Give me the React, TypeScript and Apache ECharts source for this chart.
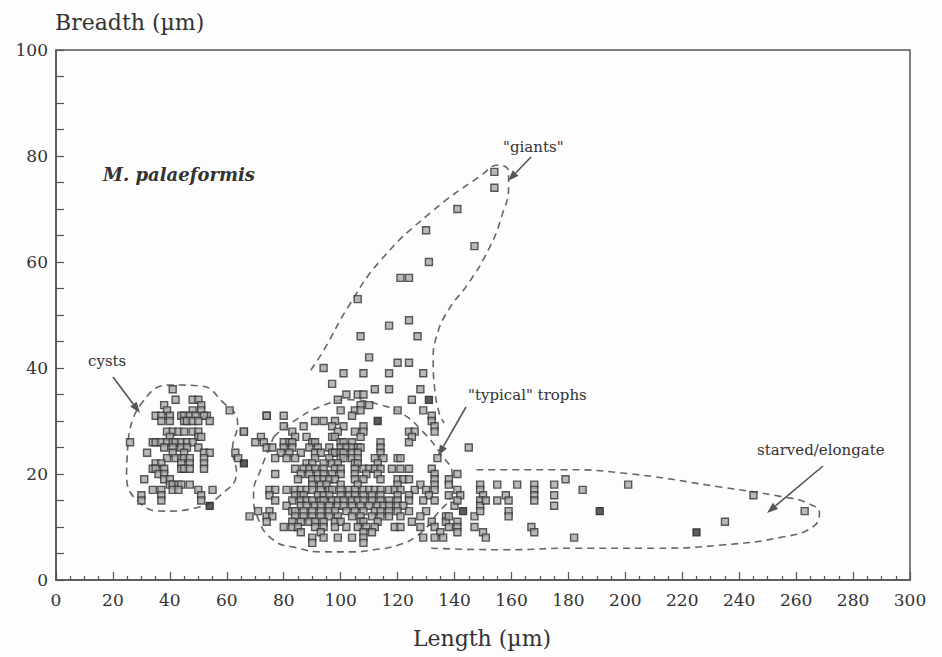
import React, { useEffect, useRef } from "react";
import * as echarts from "echarts";

// ---- Data (Length µm, Breadth µm) ----
const cystPoints: number[][] = [
  [41,36],[42,34],[38,33],[48,34],[50,34],[51,33],[39,32],[48,32],[51,32],[53,31],
  [35,31],[37,31],[40,31],[44,31],[45,31],[47,31],[49,31],[52,31],[54,30],
  [37,30],[40,30],[45,30],[46,30],[48,30],[50,30],
  [39,28],[41,28],[43,28],[45,28],[48,28],[50,28],
  [40,27],[50,27],[51,27],
  [34,26],[35,26],[37,26],[39,26],[41,26],[42,26],[44,26],[46,26],[48,26],
  [38,25],[41,25],[44,25],[46,25],[50,25],
  [32,24],[41,24],[45,24],[52,24],[54,24],
  [39,23],[42,23],[44,23],[45,23],[47,23],[52,23],
  [35,22],[37,22],[44,22],[47,22],[52,22],
  [34,21],[35,21],[38,21],[44,21],[45,21],[47,21],[52,21],
  [36,20],[38,20],
  [31,19],[38,19],[40,19],
  [40,18],[41,18],[43,18],[44,18],[47,18],
  [34,17],[37,17],[41,17],[43,17],[50,17],[55,17],
  [30,16],[37,16],[51,16],
  [30,15],[37,15],[51,15],
  [26,26],
  [61,32],[66,28],[63,24],[64,23],[74,31]
];

const giantPoints: number[][] = [
  [154,77],[154,74],[141,70],[130,66],[147,63],[131,60],[121,57],[124,57],[106,53],
  [117,48],[124,49],[107,46],[127,46],[110,42],[120,41],[124,41],[94,40],[101,39],
  [108,39],[117,39],[129,39],[97,37],[117,36],[128,36],[102,35],[106,35],[108,35],[112,36]
];

const typicalPoints: number[][] = [
  [99,34],[125,34],
  [107,33],[110,33],
  [100,32],[105,32],[107,32],[120,32],[129,32],
  [74,31],[80,31],[104,31],[132,31],
  [91,30],[94,30],[98,30],[132,30],
  [80,29],[87,29],[97,29],[101,29],[108,29],[133,29],
  [66,28],[83,28],[99,28],[105,28],[108,28],[124,28],[126,28],[133,28],
  [72,27],[84,27],[88,27],[97,27],[98,27],[107,27],[125,27],
  [70,26],[73,26],[80,26],[82,26],[83,26],[90,26],[91,26],[100,26],[101,26],[104,26],[114,26],[124,26],
  [74,25],[76,25],[80,25],[83,25],[89,25],[92,25],[96,25],[100,25],[102,25],[104,25],[106,25],[107,25],[114,25],[145,25],
  [79,24],[82,24],[86,24],[91,24],[93,24],[97,24],[98,24],[100,24],[101,24],[104,24],[106,24],[114,24],
  [77,23],[81,23],[84,23],[91,23],[96,23],[100,23],[101,23],[104,23],[106,23],[112,23],[115,23],[120,23],[121,23],[134,23],
  [88,22],[90,22],[94,22],[97,22],[99,22],[105,22],[106,22],[113,22],
  [84,21],[87,21],[89,21],[91,21],[94,21],[98,21],[100,21],[105,21],[108,21],[110,21],[112,21],[114,21],[118,21],[121,21],[124,21],[132,21],
  [77,20],[86,20],[89,20],[92,20],[94,20],[97,20],[100,20],[105,20],[109,20],[113,20],[133,20],[141,20],
  [85,19],[90,19],[92,19],[94,19],[96,19],[98,19],[105,19],[108,19],[114,19],[120,19],[122,19],[124,19],[133,19],[138,19],
  [90,18],[93,18],[95,18],[100,18],[106,18],[120,18],[128,18],[133,18],[138,18],
  [75,17],[77,17],[81,17],[84,17],[86,17],[88,17],[90,17],[93,17],[96,17],[97,17],[100,17],[103,17],[105,17],[108,17],[110,17],[112,17],[114,17],[117,17],[119,17],[121,17],[126,17],[130,17],[133,17],
  [75,16],[84,16],[86,16],[87,16],[92,16],[94,16],[96,16],[100,16],[103,16],[105,16],[108,16],[111,16],[114,16],[120,16],[124,16],[131,16],[138,16],
  [77,15],[83,15],[86,15],[88,15],[90,15],[93,15],[94,15],[97,15],[99,15],[101,15],[104,15],[106,15],[108,15],[111,15],[114,15],[117,15],[120,15],[124,15],[129,15],[133,15],
  [81,14],[86,14],[88,14],[91,14],[93,14],[96,14],[99,14],[101,14],[104,14],[107,14],[110,14],[113,14],[115,14],[117,14],[120,14],[122,14],[140,14],
  [71,13],[75,13],[83,13],[84,13],[87,13],[90,13],[93,13],[96,13],[98,13],[102,13],[105,13],[108,13],[112,13],[114,13],[117,13],[120,13],[124,13],[130,13],
  [68,12],[74,12],[76,12],[84,12],[87,12],[90,12],[93,12],[96,12],[99,12],[104,12],[107,12],[111,12],[114,12],[117,12],[121,12],[128,12],[137,12],
  [74,11],[83,11],[86,11],[89,11],[91,11],[94,11],[98,11],[100,11],[107,11],[108,11],[113,11],[125,11],[132,11],[137,11],
  [80,10],[83,10],[85,10],[91,10],[94,10],[98,10],[102,10],[106,10],[109,10],[112,10],[119,10],[121,10],[128,10],[133,10],[138,10],
  [86,9],[93,9],[108,9],[111,9],[135,9],
  [90,8],[94,8],[99,8],[104,8],[108,8],[129,8],[133,8],[136,8],
  [90,7],[108,7]
];

const starvedPoints: number[][] = [
  [141,17],[142,16],[141,15],[138,12],[141,11],[141,10],[141,9],[147,12],[147,10],
  [149,18],[149,17],[150,16],[149,15],[149,14],[149,13],[151,15],[150,9],[151,8],
  [155,18],[155,15],[158,16],[159,15],[159,13],[159,12],[162,18],
  [168,18],[168,17],[168,16],[168,15],[167,10],[168,9],
  [175,18],[175,16],[175,14],[179,19],[182,8],[185,17],[201,18],[235,11],[245,16],[263,13]
];

const filledPoints: number[][] = [
  [131,34],[113,30],[143,13],[191,13],[225,9],[54,14],[66,22]
];

// ---- Group outlines (data units) ----
const cystOutline: number[][] = [
  [25.4,26.4],[29.6,33.0],[40.2,36.8],[50.8,36.6],[58.5,33.6],[63.8,29.6],[62.0,24.5],
  [63.4,20.4],[57.8,16.0],[49.0,13.6],[38.4,13.0],[29.6,14.5],[24.8,19.8],[25.4,26.4]
];
const typicalOutline: number[][] = [
  [76.5,27.0],[82.5,29.6],[94.1,33.0],[103.6,34.0],[114.2,33.0],[121.3,31.5],[128.3,28.3],
  [135.4,23.6],[139.2,19.8],[138.9,16.6],[133.6,12.3],[127.2,8.5],[120.2,6.6],[111.7,5.7],
  [103.6,5.3],[94.1,5.3],[83.5,6.2],[76.5,7.5],[71.2,11.3],[69.4,16.4],[71.9,20.8],[76.5,27.0]
];
const giantOutline: number[][] = [
  [89.5,39.6],[94.1,43.4],[102.6,51.5],[114.2,60.4],[131.8,69.4],[149.5,76.4],[155.4,78.3],
  [159.0,77.0],[159.0,74.5],[156.5,68.5],[151.9,62.3],[144.9,56.0],[137.8,50.9],[133.6,45.8],
  [132.5,41.5],[132.9,36.8],[134.6,31.5],[136.4,29.6]
];
const starvedOutline: number[][] = [
  [147.7,20.8],[177.6,20.8],[198.8,20.2],[234.0,17.5],[255.2,15.7],[264.0,14.5],[268.2,12.6],
  [265.8,10.0],[255.2,8.1],[234.0,6.6],[210.4,6.0],[181.2,6.0],[157.6,5.7],[131.8,6.0]
];

const X_MIN = 0, X_MAX = 300, X_STEP = 20;
const Y_MIN = 0, Y_MAX = 100, Y_STEP = 20;

const FONT = "'DejaVu Serif', serif";
const INK = "#333";
const AXIS = "#555";

function arrow(x1: number, y1: number, x2: number, y2: number) {
  const a = Math.atan2(y2 - y1, x2 - x1);
  const L = 11, W = 4;
  const bx = x2 - L * Math.cos(a), by = y2 - L * Math.sin(a);
  return [
    { type: "line", shape: { x1, y1, x2: bx, y2: by }, style: { stroke: "#555", lineWidth: 1.6 } },
    {
      type: "polygon",
      shape: { points: [[x2, y2], [bx + W * Math.sin(a), by - W * Math.cos(a)], [bx - W * Math.sin(a), by + W * Math.cos(a)]] },
      style: { fill: "#555" },
    },
  ];
}

function label(text: string, x: number, y: number, size: number, extra: any = {}) {
  return {
    type: "text",
    x, y,
    style: { text, fill: INK, font: `${extra.style || "normal"} ${extra.weight || "normal"} ${size}px ${FONT}`, textVerticalAlign: "middle", textAlign: extra.align || "left" },
  };
}

export default function App() {
  const ref = useRef<HTMLDivElement>(null);
  useEffect(() => {
    if (!ref.current) return;
    const chart = echarts.init(ref.current, undefined, { renderer: "svg" });
    const pointStyle = { color: "#a8a8a8", borderColor: "#333", borderWidth: 1.4 };
    const outline = (data: number[][]) => ({
      type: "line", data, smooth: 0.5, symbol: "none", silent: true, z: 1,
      lineStyle: { color: "#666", width: 1.6, type: [7, 5] },
    });
    const scatter = (data: number[][], style: any) => ({
      type: "scatter", data, symbol: "rect", symbolSize: 7, z: 3, itemStyle: style,
    });
    chart.setOption({
      animation: false,
      backgroundColor: "#fdfdfd",
      grid: { left: 56, right: 32, top: 50, bottom: 77, show: true, borderColor: AXIS, borderWidth: 1.5 },
      xAxis: {
        type: "value", min: X_MIN, max: X_MAX, interval: X_STEP,
        axisLine: { show: true, lineStyle: { color: AXIS, width: 1.5 } },
        axisTick: { show: true, inside: true, length: 8, lineStyle: { color: AXIS, width: 1.2 } },
        minorTick: { show: true, splitNumber: 4, length: 4, lineStyle: { color: AXIS, width: 1.2 } },
        axisLabel: { margin: 11, fontSize: 17, color: INK, fontFamily: FONT },
        splitLine: { show: false },
      },
      yAxis: {
        type: "value", min: Y_MIN, max: Y_MAX, interval: Y_STEP,
        axisLine: { show: true, lineStyle: { color: AXIS, width: 1.5 } },
        axisTick: { show: true, inside: true, length: 8, lineStyle: { color: AXIS, width: 1.2 } },
        minorTick: { show: true, splitNumber: 4, length: 8, lineStyle: { color: AXIS, width: 1.2 } },
        axisLabel: { margin: 8, fontSize: 17, color: INK, fontFamily: FONT },
        splitLine: { show: false },
      },
      series: [
        outline(cystOutline),
        outline(typicalOutline),
        outline(giantOutline),
        outline(starvedOutline),
        scatter(cystPoints, pointStyle),
        scatter(giantPoints, pointStyle),
        scatter(typicalPoints, pointStyle),
        scatter(starvedPoints, pointStyle),
        scatter(filledPoints, { color: "#333", borderColor: "#222", borderWidth: 1.3 }),
      ],
      graphic: [
        label("Breadth (µm)", 55, 22, 22),
        label("Length (µm)", 482, 638, 22, { align: "center" }),
        label("M. palaeformis", 103, 174, 18, { style: "italic", weight: "bold" }),
        label("cysts", 88, 361, 15),
        label("\"giants\"", 503, 147, 15),
        label("\"typical\" trophs", 468, 395, 15),
        label("starved/elongate", 757, 450, 15),
        ...arrow(113, 377, 140, 413),
        ...arrow(531, 157, 508, 181),
        ...arrow(466, 407, 438, 456),
        ...arrow(823, 466, 767, 513),
      ],
    });
    return () => chart.dispose();
  }, []);
  return <div ref={ref} style={{ position: "absolute", left: 0, top: 0, width: 942, height: 657 }} />;
}
